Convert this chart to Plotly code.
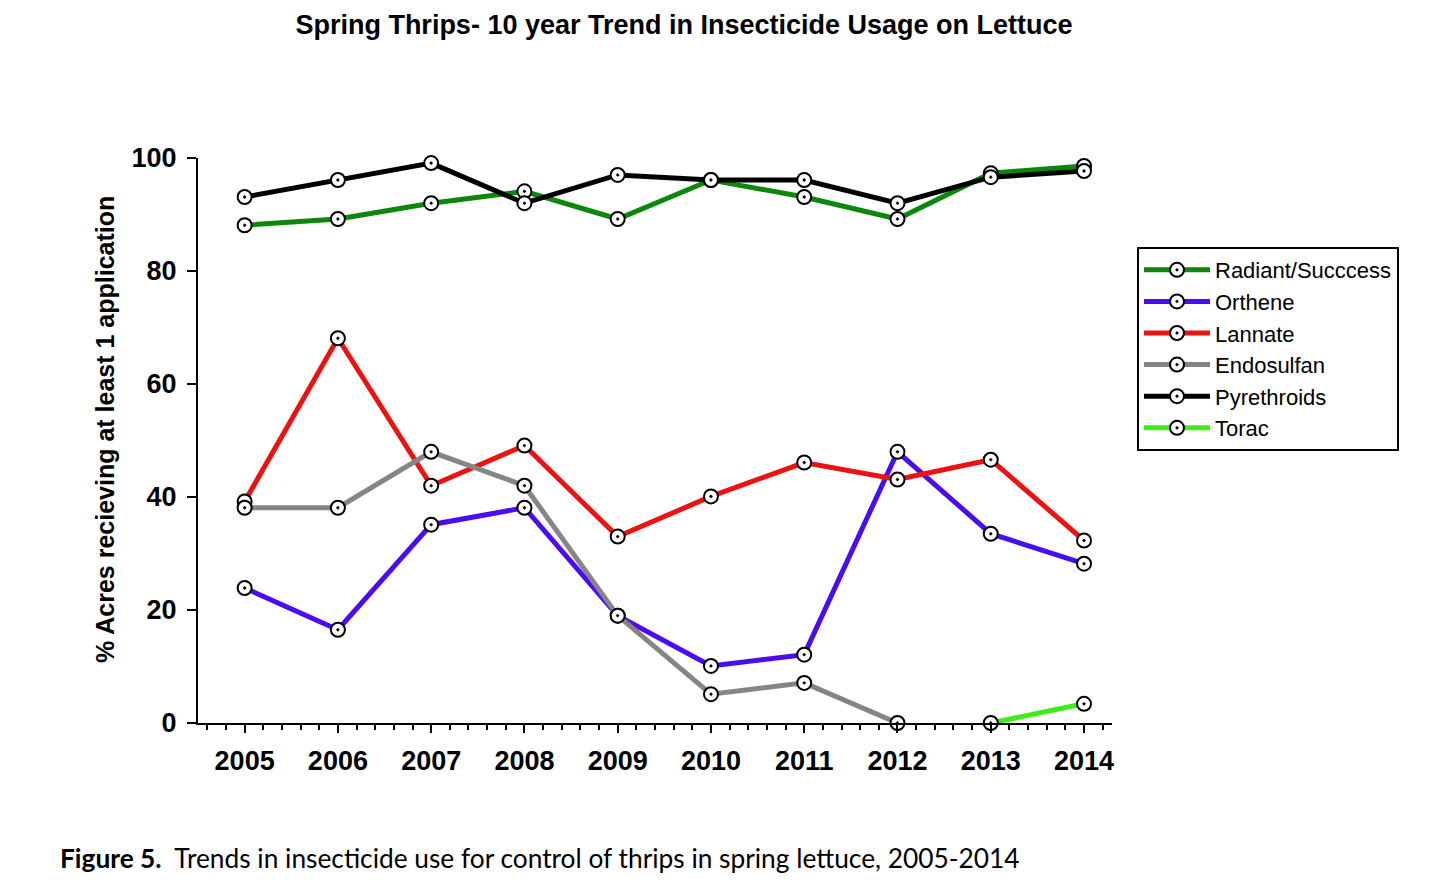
import plotly.graph_objects as go

years = [2005, 2006, 2007, 2008, 2009, 2010, 2011, 2012, 2013, 2014]
radiant = [88.1, 89.2, 92.0, 94.1, 89.2, 96.1, 93.1, 89.2, 97.3, 98.6]
orthene = [23.9, 16.5, 35.1, 38.1, 19.0, 10.1, 12.1, 48.0, 33.5, 28.2]
lannate = [39.2, 68.1, 42.0, 49.1, 33.0, 40.1, 46.1, 43.1, 46.6, 32.3]
endosulfan = [38.1, 38.1, 48.0, 42.0, 19.0, 5.1, 7.1, 0.0, None, None]
pyrethroids = [93.1, 96.1, 99.1, 92.0, 97.0, 96.1, 96.1, 92.0, 96.6, 97.7]
torac = [None, None, None, None, None, None, None, None, 0.0, 3.4]

series_names = ["Radiant/Succcess", "Orthene", "Lannate", "Endosulfan", "Pyrethroids", "Torac"]
series_values = [radiant, orthene, lannate, endosulfan, pyrethroids, torac]
series_colors = ["#0b870b", "#4a0cf0", "#ee1111", "#858585", "#000000", "#3cee16"]

title_text = "Spring Thrips- 10 year Trend in Insecticide Usage on Lettuce"
y_title = "% Acres recieving at least 1 application"
caption = "<b>Figure 5.</b>  Trends in insecticide use for control of thrips in spring lettuce, 2005-2014"

FONT = "Liberation Sans, Arial, sans-serif"

fig = go.Figure()
for name, vals, col in zip(series_names, series_values, series_colors):
    fig.add_trace(go.Scatter(
        x=years, y=vals, name=name, mode="lines+markers",
        line=dict(color=col, width=5),
        marker=dict(symbol="circle-dot", size=14, color="white",
                    line=dict(color="black", width=2)),
        cliponaxis=False,
    ))

# page body has an 8px margin; lay out in page pixels minus that offset
OFF = 8
W, H = 1429 - 2 * OFF, 889 - 2 * OFF
L, T = 198 - OFF, 158 - OFF
R = W - (1112 - OFF)
B = H - (723 - OFF)
pw, ph = W - L - R, H - T - B


def px_to_paper(px, py):
    return (px - OFF - L) / pw, ((723 - OFF) - (py - OFF)) / ph


ytx, yty = px_to_paper(105, 430)
capx, capy = px_to_paper(58, 858)

fig.update_layout(
    width=W, height=H,
    margin=dict(l=L, r=R, t=T, b=B),
    paper_bgcolor="white", plot_bgcolor="white",
    font=dict(family=FONT, color="black"),
    title=dict(text="<b>" + title_text + "</b>", x=(684 - OFF) / W, xref="container", xanchor="center",
               y=1 - (25 - OFF) / H, yref="container", yanchor="middle",
               font=dict(size=27, family=FONT, color="black")),
    showlegend=True,
    legend=dict(xref="container", yref="container", x=(1137 - OFF) / W, y=1 - (247 - OFF) / H,
                xanchor="left", yanchor="top",
                bordercolor="black", borderwidth=2, bgcolor="white",
                font=dict(size=22, family=FONT, color="black"),
                itemwidth=66, tracegroupgap=0),
    xaxis=dict(range=[2004.5, 2014.3], tickmode="linear", tick0=2005, dtick=1,
               showgrid=False, zeroline=False, showline=True, linecolor="black", linewidth=2,
               ticks="outside", ticklen=8, tickwidth=2, tickcolor="black",
               tickfont=dict(size=27, family=FONT, color="black", weight="bold"),
               ticklabelstandoff=5,
               minor=dict(tickmode="linear", tick0=2005, dtick=0.2, ticks="outside",
                          ticklen=5, tickwidth=2, tickcolor="black", showgrid=False)),
    yaxis=dict(range=[0, 100], tickmode="linear", tick0=0, dtick=20,
               showgrid=False, zeroline=False, showline=True, linecolor="black", linewidth=2,
               ticks="outside", ticklen=9, tickwidth=2, tickcolor="black",
               tickfont=dict(size=27, family=FONT, color="black", weight="bold"),
               ticklabelstandoff=5),
    annotations=[
        dict(text="<b>" + y_title + "</b>", xref="paper", yref="paper", x=ytx, y=yty,
             xanchor="center", yanchor="middle", textangle=-90, showarrow=False,
             font=dict(size=25, family=FONT, color="black")),
        dict(text=caption, xref="paper", yref="paper",
             x=capx, y=capy, xanchor="left", yanchor="middle",
             showarrow=False, font=dict(size=26.3, family="Lato, Open Sans, sans-serif", color="black")),
    ],
)

fig.write_html("out.html")
